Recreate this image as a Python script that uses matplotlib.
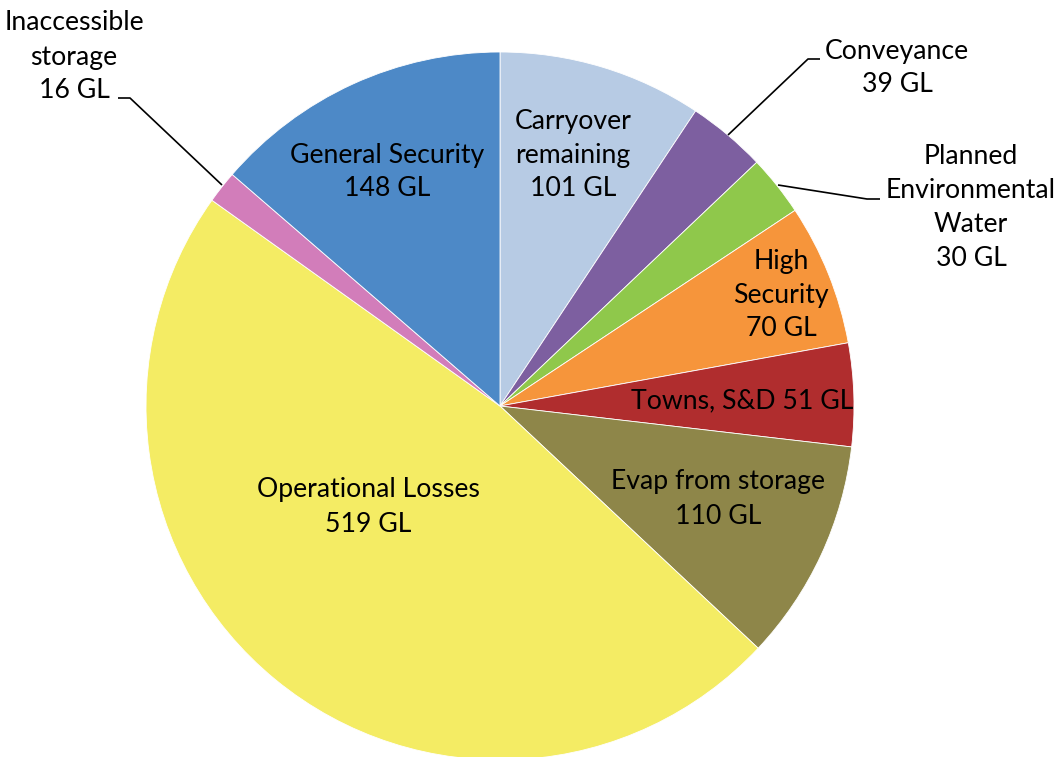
import matplotlib.pyplot as plt

# Slices, clockwise from 12 o'clock
labels = ["Carryover\nremaining", "Conveyance", "Planned\nEnvironmental\nWater", "High\nSecurity",
          "Towns, S&D", "Evap from storage", "Operational Losses", "Inaccessible\nstorage",
          "General Security"]
values = [101, 39, 30, 70, 51, 110, 519, 16, 148]
colors = ["#B7CBE4", "#7D5FA0", "#8FC84B", "#F6953B", "#B02D2E", "#8E8649",
          "#F4EC64", "#D27DBA", "#4D89C7"]

W, H = 1062, 757
fig = plt.figure(figsize=(W / 100, H / 100), dpi=100)
ax = fig.add_axes([0, 0, 1, 1])

# pie sits in pixel space, y flipped (image y -> H - y)
cx, cy, r = 500, H - 406, 354
ax.pie(values, colors=colors, startangle=90, counterclock=False,
       center=(cx, cy), radius=r, frame=True,
       wedgeprops=dict(edgecolor="white", linewidth=0.6))
ax.set_xlim(0, W)
ax.set_ylim(0, H)
ax.set_aspect("equal")
ax.axis("off")

font = dict(family=["Lato", "DejaVu Sans"], fontsize=19.2, color="black",
            ha="center", va="center", linespacing=1.45)


def txt(x, y, s):
    ax.text(x, H - y, s, **font)


# labels inside wedges
txt(573, 155, f"{labels[0]}\n{values[0]} GL")
txt(781, 295, f"{labels[3]}\n{values[3]} GL")
txt(742, 401, f"{labels[4]} {values[4]} GL")
txt(718, 499, f"{labels[5]}\n{values[5]} GL")
txt(368, 507, f"{labels[6]}\n{values[6]} GL")
txt(387, 172, f"{labels[8]}\n{values[8]} GL")

# labels outside with leader lines
txt(74, 57, f"{labels[7]}\n{values[7]} GL")
txt(897, 68, f"{labels[1]}\n{values[1]} GL")
txt(971, 208, f"{labels[2]}\n{values[2]} GL")


def leader(pts):
    xs = [p[0] for p in pts]
    ys = [H - p[1] for p in pts]
    ax.plot(xs, ys, color="black", linewidth=1.2, solid_capstyle="butt")


leader([(118, 98), (130, 98), (222, 185)])
leader([(820, 59), (808, 59), (728, 135)])
leader([(880, 199), (867, 199), (778, 185)])

fig.savefig("out.png", dpi=100, facecolor="white")
